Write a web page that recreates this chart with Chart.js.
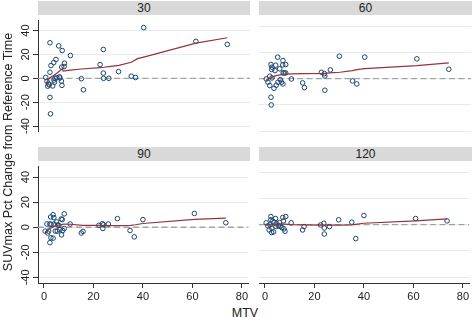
<!DOCTYPE html>
<html>
<head>
<meta charset="utf-8">
<script src="https://cdn.jsdelivr.net/npm/chart.js@4.4.0/dist/chart.umd.min.js"></script>
<style>
    body { margin: 0; background: #fff; font-family: "Liberation Sans", Arial, sans-serif; }
    #fig { position: relative; width: 472px; height: 318px; overflow: hidden; background: #fff; }
    canvas, .strip, .titulo { position: absolute; }
    .strip { background: #d9d9d9; color: #222; font-size: 12px; text-align: center; }
    .titulo { color: #222; font-size: 12.5px; white-space: nowrap; text-align: center; }
</style>
</head>
<body>
<div id="fig">
    <div class="strip" id="strip0" style="left:38px;top:1px;width:212px;height:14px;line-height:14px"></div>
    <div class="strip" id="strip1" style="left:259px;top:1px;width:213px;height:14px;line-height:14px"></div>
    <div class="strip" id="strip2" style="left:38px;top:147px;width:212px;height:14px;line-height:14px"></div>
    <div class="strip" id="strip3" style="left:259px;top:147px;width:213px;height:14px;line-height:14px"></div>

    <canvas id="painel0" width="250" height="122" style="left:0;top:15px"></canvas>
    <canvas id="painel1" width="212" height="122" style="left:259px;top:15px"></canvas>
    <canvas id="painel2" width="250" height="140" style="left:0;top:161px"></canvas>
    <canvas id="painel3" width="212" height="140" style="left:259px;top:161px"></canvas>

    <div class="titulo" id="tituloY" style="left:-122px;top:144px;width:260px;height:16px;line-height:16px;transform:rotate(-90deg)"></div>
    <div class="titulo" id="tituloX" style="left:205px;top:305px;width:80px;height:16px;line-height:16px"></div>
</div>
<script>
// dados
const PANEL_LABELS = ['30', '60', '90', '120']
const Y_TITLE = 'SUVmax Pct Change from Reference Time'
const X_TITLE = 'MTV'
const X_TICKS = [0, 20, 40, 60, 80]
const Y_TICKS = [-40, -20, 0, 20, 40]
const REF_Y = 0

const MTV_30 = [0.7, 1.2, 1.5, 1.9, 2.1, 2.4, 2.4, 2.4, 2.6, 2.8, 3.5, 3.9, 4.0, 4.2, 4.4, 4.8, 5.1, 5.9, 6.2, 6.4,
    7.0, 7.2, 7.3, 7.1, 8.2, 8.1, 10.6, 15.0, 15.8, 22.5, 23.8, 23.8, 23.9, 26.0, 29.9, 35.0, 36.7, 40.0, 60.9, 73.5]
const PCT_30 = [0.8, -2.5, -6.6, -4.8, -5.5, 29.8, 5.1, -16, -29.8, 10.7, -6.4, 13.2, -1.5, -3.3, 0, 15.8, 0.5, 27.2, 1.3, 0.3,
    -2.3, -5.9, 23.3, 9.4, 12.7, 9.9, 19.1, -0.3, -9.6, 11.5, 24.2, 4.4, 0, 0, 5.6, 1.8, 0.7, 42.5, 31.0, 28.5]

const MTV_60 = [0.5, 1.2, 1.9, 1.9, 2.4, 2.7, 2.8, 2.4, 2.5, 2.8, 3.6, 4.0, 4.3, 4.5, 5.1, 5.2, 5.9, 6.1, 6.6, 7.2,
    7.1, 7.2, 7.3, 7.7, 8.3, 8.3, 10.6, 15.1, 15.8, 22.6, 23.8, 24.0, 24.0, 26.2, 29.8, 35.1, 36.8, 40.0, 60.9, 73.7]
const PCT_60 = [-0.3, -2.8, 1.8, -5.3, 10.7, 6.9, 8.7, -14.2, -20.1, 0.5, -7.4, 6.1, 10.2, -5.1, 16.3, -2.8, 7.4, -0.8, -2.8, 13.7,
    10.4, -4.1, 4.3, 4.3, 10.7, 4.3, -0.3, -3.3, -6.9, 4.8, 3.8, 2.0, -8.9, 6.6, 17.0, -1.8, -4.1, 16.3, 15.0, 7.1]

const MTV_90 = [0.5, 1.2, 1.5, 1.9, 2.4, 2.4, 2.7, 2.8, 2.9, 3.7, 3.7, 4.0, 4.1, 4.6, 5.1, 5.4, 5.6, 6.0, 6.4, 7.0,
    7.4, 7.1, 7.6, 8.2, 8.2, 10.6, 15.1, 15.8, 22.2, 23.6, 23.8, 24.1, 26.0, 29.7, 34.8, 36.5, 40.0, 60.8, 73.5]
const PCT_90 = [-3.1, 2.6, -4.6, -3.1, -12.3, 2.6, 8.2, -8.4, 2.3, -8.7, 10.0, 7.7, 2.6, -3.1, 4.3, -3.1, 1.8, 1.5, -2.0, 6.6,
    6.1, -6.1, -2.6, -1.0, 10.7, 2.6, -4.6, -3.3, 1.5, 2.8, -1.0, 2.0, 2.6, 6.9, -2.6, -7.7, 6.1, 11.0, 3.6]

const MTV_120 = [0.5, 1.2, 1.7, 2.1, 2.4, 2.4, 2.7, 2.8, 3.2, 3.5, 3.7, 4.3, 4.5, 4.8, 5.5, 5.9, 6.1, 6.8, 7.2, 7.5,
    7.7, 8.1, 8.4, 10.6, 15.2, 15.8, 22.5, 23.8, 24.0, 24.0, 26.1, 29.8, 35.1, 36.7, 40.0, 60.9, 73.6]
const PCT_120 = [1.3, -1.0, -4.1, -0.3, 6.1, 3.6, -6.1, -2.8, 2.6, -5.6, 1.5, 4.6, -1.5, 0.5, -1.0, 1.5, -1.3, -2.3, 5.4, 2.8,
    -3.3, -5.1, 6.1, 1.3, -4.1, -1.5, -0.3, 1.0, -2.6, -7.2, -1.5, 3.6, 1.8, -10.7, 6.9, 4.6, 2.8]

// curvas lowess
const LOW_X_30 = [0.7, 1.5, 2.4, 3.5, 5.0, 6.5, 7.3, 7.7, 10.6, 15.0, 22.5, 24.0, 26.0, 30.0, 35.0, 37.5, 40.0, 60.9, 73.5]
const LOW_Y_30 = [-4.5, -2.0, 0.5, 2.0, 4.0, 6.5, 8.0, 6.0, 6.8, 7.8, 9.0, 9.3, 9.8, 10.8, 13.5, 16.5, 17.8, 29.5, 34.0]
const LOW_X_60 = [0.5, 2.5, 4.0, 6.0, 8.0, 10.6, 15.5, 24.0, 26.0, 30.0, 35.0, 37.5, 40.0, 60.9, 73.7]
const LOW_Y_60 = [-0.8, 0.5, 2.0, 2.8, 3.2, 3.5, 3.8, 4.0, 4.3, 4.8, 6.0, 7.0, 7.5, 9.9, 12.0]
const LOW_X_90 = [0.5, 1.5, 2.5, 4.0, 5.5, 8.0, 10.6, 15.5, 22.5, 26.0, 30.0, 35.0, 37.0, 40.0, 60.8, 73.5]
const LOW_Y_90 = [-4.0, -2.5, -1.0, 0.5, 1.5, 2.5, 2.4, 1.5, 1.5, 1.3, 1.3, 1.5, 2.0, 3.0, 6.3, 7.3]
const LOW_X_120 = [0.5, 3.0, 6.0, 8.0, 10.6, 15.5, 22.5, 26.0, 30.0, 35.0, 40.0, 60.9, 73.6]
const LOW_Y_120 = [-0.5, 0, 0.5, 0.3, 0, -0.3, -0.5, -0.5, -0.4, -0.2, 1.0, 2.8, 4.3]

const X_MIN = -2.4, X_MAX = 82.6
const Y_MIN = -44.5, Y_MAX = 48.4

Chart.defaults.font.family = '"Liberation Sans", Arial, sans-serif'
Chart.defaults.color = '#222'

const linhaReferencia = {
    id: 'linhaReferencia',
    beforeDatasetsDraw(chart) {
        const { ctx, chartArea, scales } = chart
        const py = scales.y.getPixelForValue(REF_Y)
        ctx.save()
        ctx.strokeStyle = '#a3a3a3'
        ctx.lineWidth = 1.3
        ctx.setLineDash([6, 3.5])
        ctx.beginPath()
        ctx.moveTo(chartArea.left, py)
        ctx.lineTo(chartArea.right, py)
        ctx.stroke()
        ctx.restore()
    }
}

function pares(xs, ys) {
    return xs.map((x, i) => ({ x: x, y: ys[i] }))
}

function criarPainel(id, xs, ys, lowX, lowY, comEixoY, comEixoX) {
    const ctx = document.getElementById(id).getContext('2d')
    return new Chart(ctx, {
        type: 'scatter',
        data: {
            datasets: [{
                data: pares(lowX, lowY),
                showLine: true,
                borderColor: '#90353b',
                borderWidth: 1.2,
                pointRadius: 0,
                tension: 0
            }, {
                data: pares(xs, ys),
                pointRadius: 2.3,
                pointBorderWidth: 1,
                borderColor: '#1a476f',
                backgroundColor: 'rgba(255,255,255,0)'
            }]
        },
        options: {
            responsive: false,
            animation: false,
            layout: { padding: 0, autoPadding: false },
            plugins: { legend: { display: false }, tooltip: { enabled: false } },
            scales: {
                x: {
                    type: 'linear',
                    min: X_MIN,
                    max: X_MAX,
                    display: comEixoX,
                    afterBuildTicks: s => { s.ticks = X_TICKS.map(v => ({ value: v })) },
                    afterFit: s => { s.height = comEixoX ? 18 : 0 },
                    grid: { display: true, drawOnChartArea: false, tickLength: 5, tickColor: '#333' },
                    border: { display: true, color: '#333', width: 1 },
                    ticks: { font: { size: 11 }, padding: 2, maxRotation: 0, color: '#222' }
                },
                y: {
                    type: 'linear',
                    min: Y_MIN,
                    max: Y_MAX,
                    afterBuildTicks: s => { s.ticks = Y_TICKS.map(v => ({ value: v })) },
                    afterFit: s => { s.width = comEixoY ? 38 : 0 },
                    grid: { color: '#e6ebed', lineWidth: 1, drawTicks: comEixoY, tickLength: 5, tickColor: '#333' },
                    border: { display: comEixoY, color: '#333', width: 1 },
                    ticks: {
                        display: comEixoY,
                        font: { size: 11 },
                        minRotation: 90,
                        maxRotation: 90,
                        crossAlign: 'center',
                        padding: -1,
                        color: '#222'
                    }
                }
            }
        },
        plugins: [linhaReferencia]
    })
}

PANEL_LABELS.forEach((rotulo, i) => {
    document.getElementById('strip' + i).textContent = rotulo
})
document.getElementById('tituloY').textContent = Y_TITLE
document.getElementById('tituloX').textContent = X_TITLE

criarPainel('painel0', MTV_30, PCT_30, LOW_X_30, LOW_Y_30, true, false)
criarPainel('painel1', MTV_60, PCT_60, LOW_X_60, LOW_Y_60, false, false)
criarPainel('painel2', MTV_90, PCT_90, LOW_X_90, LOW_Y_90, true, true)
criarPainel('painel3', MTV_120, PCT_120, LOW_X_120, LOW_Y_120, false, true)
</script>
</body>
</html>
